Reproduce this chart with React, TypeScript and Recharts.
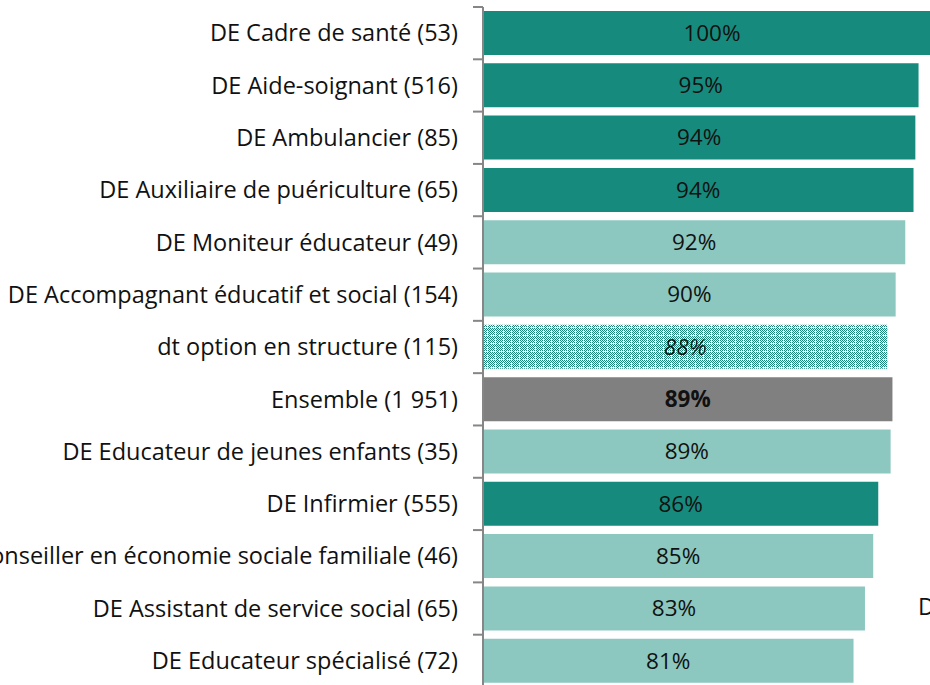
import React from 'react';
import { BarChart, Bar, XAxis, YAxis, Cell, LabelList } from 'recharts';

const categories = [
  'DE Cadre de santé (53)',
  'DE Aide-soignant (516)',
  'DE Ambulancier (85)',
  'DE Auxiliaire de puériculture (65)',
  'DE Moniteur éducateur (49)',
  'DE Accompagnant éducatif et social (154)',
  'dt option en structure (115)',
  'Ensemble (1 951)',
  'DE Educateur de jeunes enfants (35)',
  'DE Infirmier (555)',
  'DE Conseiller en économie sociale familiale (46)',
  'DE Assistant de service social (65)',
  'DE Educateur spécialisé (72)',
];

const values = [100, 95.1, 94.4, 94.0, 92.2, 90.1, 88.3, 89.4, 89.0, 86.3, 85.2, 83.4, 80.9];

// sanitaire / social / option / ensemble
const groups = [
  'sanitaire', 'sanitaire', 'sanitaire', 'sanitaire',
  'social', 'social', 'option', 'ensemble', 'social',
  'sanitaire', 'social', 'social', 'social',
];

const data = categories.map((name, i) => ({ name, value: values[i], group: groups[i] }));

const COLORS: Record<string, string> = {
  sanitaire: '#168b7d',
  social: '#8cc8c0',
  option: 'url(#hatch)',
  ensemble: '#808080',
};

const FONT = '"Open Sans", Lato, sans-serif';
const SHIFT = 200; // chart is cropped on the left
const AXIS_W = 483 + SHIFT;
const MARGIN = { top: 7, right: 0, bottom: 3, left: 0 };
const CHART_W = AXIS_W + 458;
const CHART_H = 690;
const BAND = (CHART_H - MARGIN.top - MARGIN.bottom) / data.length;

const CategoryTick = (props: any) => {
  const { y, payload, index } = props;
  const last = index === data.length - 1;
  return (
    <g>
      <line x1={AXIS_W - 10} x2={AXIS_W} y1={y - BAND / 2} y2={y - BAND / 2} stroke="#868686" strokeWidth={2} />
      {last && <line x1={AXIS_W - 10} x2={AXIS_W} y1={y + BAND / 2} y2={y + BAND / 2} stroke="#868686" strokeWidth={2} />}
      <text x={AXIS_W - 25} y={y} dy="0.35em" textAnchor="end" fill="#111" fontSize={23.5} fontFamily={FONT}>
        {payload.value}
      </text>
    </g>
  );
};

const ValueLabel = (props: any) => {
  const { x, y, width, height, value, index } = props;
  const g = groups[index];
  return (
    <text
      x={x + width / 2}
      y={y + height / 2}
      dy="0.35em"
      textAnchor="middle"
      fill="#111"
      fontSize={22.5}
      fontFamily={FONT}
      fontWeight={g === 'ensemble' ? 'bold' : 'normal'}
      fontStyle={g === 'option' ? 'italic' : 'normal'}
    >
      {Math.round(value)}%
    </text>
  );
};

const checker: number[][] = [];
for (let i = 0; i < 8; i++) for (let j = 0; j < 8; j++) {
  if (i !== 7 && j !== 7 && (i + j) % 2 === 0) checker.push([i, j]);
}

export default function App() {
  return (
    <div style={{ position: 'fixed', left: 0, top: 0, width: 930, height: 685, overflow: 'hidden', background: '#fff' }}>
      <div style={{ position: 'absolute', left: -SHIFT, top: 0 }}>
        <BarChart width={CHART_W} height={CHART_H} data={data} layout="vertical" margin={MARGIN} barSize={44}>
          <defs>
            <pattern id="hatch" width={8} height={8} patternUnits="userSpaceOnUse">
              <rect width={8} height={8} fill="#ffffff" />
              {checker.map(([i, j]) => (
                <rect key={`${i}-${j}`} x={i} y={j} width={1} height={1} fill="#168b7d" />
              ))}
              <rect x={1} y={7} width={1} height={1} fill="#168b7d" />
              <rect x={7} y={1} width={1} height={1} fill="#168b7d" />
            </pattern>
          </defs>
          <XAxis type="number" domain={[0, 100]} hide />
          <YAxis
            type="category"
            dataKey="name"
            width={AXIS_W}
            axisLine={{ stroke: '#868686', strokeWidth: 2 }}
            tickLine={false}
            tick={<CategoryTick />}
            interval={0}
          />
          <Bar dataKey="value" isAnimationActive={false}>
            {data.map((d, i) => (
              <Cell key={i} fill={COLORS[d.group]} />
            ))}
            <LabelList dataKey="value" content={<ValueLabel />} />
          </Bar>
        </BarChart>
      </div>
      <div style={{ position: 'absolute', left: 918, top: 590, fontFamily: FONT, fontSize: 23.5, color: '#111', whiteSpace: 'nowrap' }}>
        DE sanitaire
      </div>
    </div>
  );
}
